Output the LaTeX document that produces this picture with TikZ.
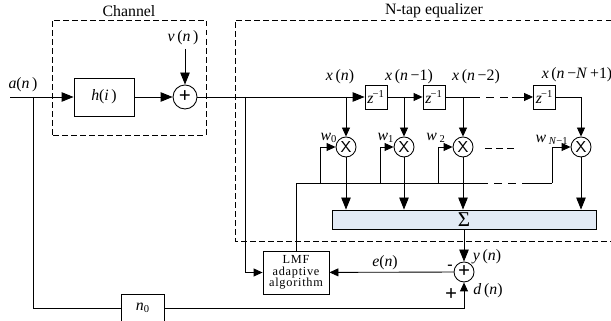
\documentclass[tikz,border=0pt]{standalone}
\usepackage{fontspec}
\setmainfont{Liberation Serif}
\usetikzlibrary{arrows.meta}
\definecolor{sumblue}{HTML}{E2EAF5}
\newcommand{\ital}[1]{\textit{#1}}
\newcommand{\zinv}{\ital{z}\kern-0.5pt\textsuperscript{−1}}
\newcommand{\bigplus}{\fontsize{12}{12}\selectfont\textbf{+}}
\tikzset{
  box/.style={draw, minimum width=#1, inner sep=0pt, align=center},
  sumnode/.style={draw, circle, minimum size=#1, inner sep=0pt},
  tapbox/.style={draw, minimum width=0.44cm, minimum height=0.48cm, inner sep=0pt},
  label/.style={inner sep=0pt},
  bigarrow/.style={-{Triangle[length=0.24cm,width=0.19cm]}},
  smallarrow/.style={-{Triangle[length=0.18cm,width=0.16cm]}},
  wiredash/.style={dash pattern=on 0.16cm off 0.12cm},
  shortdash/.style={dash pattern=on 0.13cm off 0.09cm},
  framedash/.style={dash pattern=on 0.11cm off 0.07cm}
}
\begin{document}
\begin{tikzpicture}[font=\fontsize{9}{10}\selectfont, line width=0.5pt]
        \useasboundingbox (0,0) rectangle (12.22,6.42);

        % Dashed frames of channel and equalizer
        \draw[framedash] (1.04,3.72) rectangle (4.12,6.02);
        \draw[framedash] (12.22,6.02) -- (4.70,6.02) -- (4.70,1.60) -- (12.22,1.60);
        \node[label] (channel) at (2.58,6.20) {Channel};
        \node[label] (equalizer) at (8.68,6.20) {N-tap equalizer};

        % Blocks of the channel
        \node[box=1.2cm, minimum height=0.76cm] (h) at (2.08,4.48) {\ital{h}(\ital{i}\,)};
        \node[sumnode=0.48cm] (sum1) at (3.70,4.48) {\bigplus};
        \node[label] (vn) at (3.66,5.66) {\ital{v}\,(\ital{n}\,)};
        \coordinate (vend) at (3.70,5.44);

        % Delay line
        \node[tapbox] (z1) at (7.52,4.48) {\zinv};
        \node[tapbox] (z2) at (8.68,4.48) {\zinv};
        \node[tapbox] (z3) at (10.89,4.48) {\zinv};

        % Multipliers
        \node[sumnode=0.40cm] (m1) at (6.92,3.48) {\sffamily X};
        \node[sumnode=0.40cm] (m2) at (8.08,3.48) {\sffamily X};
        \node[sumnode=0.40cm] (m3) at (9.26,3.48) {\sffamily X};
        \node[sumnode=0.40cm] (m4) at (11.62,3.48) {\sffamily X};

        % Summing bar, adaptive block, error node and delay
        \node[box=5.28cm, minimum height=0.38cm, fill=sumblue] (sigma) at (9.28,2.03) {\large Σ};
        \node[box=1.32cm, minimum height=0.86cm, font=\fontsize{7}{6.6}\selectfont\addfontfeatures{LetterSpace=6}] (lmf) at (5.92,0.97) {LMF\\adaptive\\algorithm};
        \node[sumnode=0.40cm] (sum2) at (9.28,0.98) {\bigplus};
        \node[box=0.86cm, minimum height=0.56cm] (n0) at (2.86,0.26) {\ital{n}\textsubscript{0}};

        % Signal labels
        \node[label] (an) at (0.46,4.72) {\ital{a}(\ital{n}\,)};
        \node[label] (xn) at (6.80,4.88) {\ital{x}\,(\ital{n})};
        \node[label] (xn1) at (8.18,4.88) {\ital{x}\,(\ital{n}\,−1)};
        \node[label] (xn2) at (9.52,4.88) {\ital{x}\,(\ital{n}\,−2)};
        \node[label] (xnN) at (11.54,4.92) {\ital{x}\,(\ital{n}\,−\ital{N}\,+1)};
        \node[label] (w0) at (6.58,3.66) {\ital{w}\textsubscript{0}};
        \node[label] (w1) at (7.72,3.66) {\ital{w}\textsubscript{1}};
        \node[label] (w2) at (8.72,3.66) {\ital{w}\,\textsubscript{2}};
        \node[label] (wN) at (11.04,3.62) {\ital{w}\,\textsubscript{\ital{N}−1}};
        \node[label] (yn) at (9.74,1.28) {\ital{y}\,(\ital{n})};
        \node[label] (dn) at (9.76,0.60) {\ital{d}\,(\ital{n})};
        \node[label] (en) at (7.70,1.16) {\ital{e}(\ital{n})};
        \node[label] (minus) at (9.00,1.08) {\textbf{-}};
        \node[label] (plus) at (9.02,0.52) {\bigplus};

        % Junctions on the main line
        \coordinate (ain) at (0.20,4.48);
        \coordinate (aj) at (0.66,4.48);
        \coordinate (lj) at (4.90,4.48);
        \coordinate (t1) at (6.92,4.48);
        \coordinate (t2) at (8.08,4.48);
        \coordinate (t3) at (9.26,4.48);
        \coordinate (da) at (9.44,4.48);
        \coordinate (db) at (10.24,4.48);

        % Main line
        \draw[bigarrow] (ain) -- (h);
        \draw[bigarrow] (h) -- (sum1);
        \draw[bigarrow] (vend) -- (sum1);
        \draw[bigarrow] (sum1) -- (z1);
        \draw[smallarrow] (z1) -- (z2);
        \draw (z2) -- (da);
        \draw[wiredash] (da) -- (db);
        \draw[smallarrow] (db) -- (z3);

        % Taps
        \draw[smallarrow] (t1) -- (m1);
        \draw[smallarrow] (t2) -- (m2);
        \draw[smallarrow] (t3) -- (m3);
        \draw[smallarrow] (z3.east) -| (m4);
        \coordinate (mda) at (9.70,3.46);
        \coordinate (mdb) at (10.28,3.46);
        \draw[shortdash] (mda) -- (mdb);

        % Multipliers into the summing bar
        \draw[bigarrow] (m1) -- (m1 |- sigma.north);
        \draw[bigarrow] (m2) -- (m2 |- sigma.north);
        \draw[bigarrow] (m3) -- (m3 |- sigma.north);
        \draw[bigarrow] (m4) -- (m4 |- sigma.north);

        % Weight update lines
        \coordinate (fb0) at (5.92,2.76);
        \coordinate (fb1) at (6.40,2.76);
        \coordinate (fb2) at (7.60,2.76);
        \coordinate (fb3) at (8.76,2.76);
        \coordinate (fda) at (9.60,2.76);
        \coordinate (fdb) at (10.46,2.76);
        \coordinate (fb4) at (11.04,2.76);
        \draw (lmf) -- (fb0) -- (fda);
        \draw[wiredash] (fda) -- (fdb);
        \draw (fdb) -- (fb4);
        \draw[smallarrow] (fb1) |- (m1);
        \draw[smallarrow] (fb2) |- (m2);
        \draw[smallarrow] (fb3) |- (m3);
        \draw[smallarrow] (fb4) |- (m4);

        % Error path and reference path
        \draw[bigarrow] (sigma) -- (sum2);
        \draw[smallarrow] (sum2) -- (lmf);
        \draw[smallarrow] (lj) |- (lmf);
        \draw (aj) |- (n0);
        \draw[smallarrow] (n0) -| (sum2);
    \end{tikzpicture}
\end{document}
